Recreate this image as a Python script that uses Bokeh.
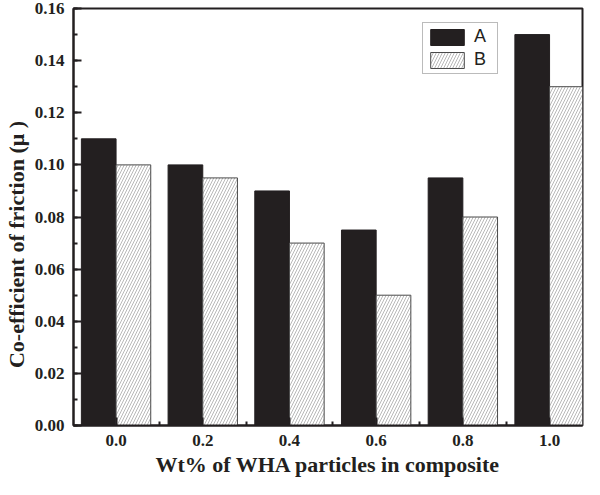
from bokeh.plotting import figure
from bokeh.models import Range1d, FixedTicker, SingleIntervalTicker, NumeralTickFormatter, Legend, LegendItem, ColumnDataSource
from bokeh.embed import file_html
from bokeh.resources import INLINE

# data
wt = [0.0, 0.2, 0.4, 0.6, 0.8, 1.0]
series_a = [0.110, 0.100, 0.090, 0.075, 0.095, 0.150]
series_b = [0.100, 0.095, 0.070, 0.050, 0.080, 0.130]
x_ticks = [0.0, 0.2, 0.4, 0.6, 0.8, 1.0]
x_minor = [0.1, 0.3, 0.5, 0.7, 0.9]

bar_w = 0.08
src_a = ColumnDataSource(dict(x=[v - bar_w / 2 for v in wt], top=series_a))
src_b = ColumnDataSource(dict(x=[v + bar_w / 2 for v in wt], top=series_b))

p = figure(width=584, height=479, output_backend="svg", toolbar_location=None,
           x_range=Range1d(-0.0982, 1.076), y_range=Range1d(0, 0.16),
           min_border_left=68, min_border_right=2, min_border_top=8, min_border_bottom=48)

p.grid.visible = False
p.outline_line_color = "#231f20"
p.outline_line_width = 2
p.background_fill_color = "white"
p.border_fill_color = "white"

ra = p.vbar(x="x", top="top", width=bar_w, bottom=0, source=src_a,
            fill_color="#231f20", line_color="#231f20", line_width=1)
rb = p.vbar(x="x", top="top", width=bar_w, bottom=0, source=src_b,
            fill_color="white", line_color="#4a4a4a", line_width=1,
            hatch_pattern="/", hatch_color="#9a9a9a", hatch_scale=6, hatch_weight=0.7)

# axes
p.xaxis.ticker = FixedTicker(ticks=x_ticks, minor_ticks=x_minor)
p.xaxis.formatter = NumeralTickFormatter(format="0.0")
p.yaxis.ticker = SingleIntervalTicker(interval=0.02, num_minor_ticks=2)
p.yaxis.formatter = NumeralTickFormatter(format="0.00")

for ax in (p.xaxis[0], p.yaxis[0]):
    ax.axis_line_width = 2
    ax.axis_line_color = "#231f20"
    ax.major_tick_in = 8
    ax.major_tick_out = 0
    ax.minor_tick_in = 4
    ax.minor_tick_out = 0
    ax.major_tick_line_width = 2
    ax.minor_tick_line_width = 2
    ax.major_tick_line_color = "#231f20"
    ax.minor_tick_line_color = "#231f20"
    ax.major_label_text_font = "Liberation Serif"
    ax.major_label_text_font_style = "bold"
    ax.major_label_text_font_size = "17px"
    ax.major_label_text_color = "#231f20"
    ax.axis_label_text_font = "Liberation Serif"
    ax.axis_label_text_font_style = "bold"
    ax.axis_label_text_color = "#231f20"

p.xaxis.major_label_standoff = 9
p.yaxis.major_label_standoff = 9
p.xaxis.axis_label = "Wt% of WHA particles in composite"
p.xaxis.axis_label_text_font_size = "22px"
p.xaxis.axis_label_standoff = 3
p.yaxis.axis_label = "Co-efficient of friction (\u03bc )" + "\u00a0" * 10
p.yaxis.axis_label_text_font_size = "22px"
p.yaxis.axis_label_standoff = 3

legend = Legend(items=[LegendItem(label="A", renderers=[ra]),
                       LegendItem(label="B", renderers=[rb])],
                location=(349, 351))
legend.label_text_font = "Liberation Sans"
legend.label_text_font_size = "18px"
legend.label_text_color = "#231f20"
legend.glyph_width = 42
legend.glyph_height = 20
legend.label_standoff = 6
legend.padding = 3
legend.spacing = 2
legend.margin = 0
legend.border_line_color = "#777777"
legend.border_line_width = 1
legend.background_fill_alpha = 1
p.add_layout(legend)

open("out.html", "w").write(file_html(p, INLINE))
